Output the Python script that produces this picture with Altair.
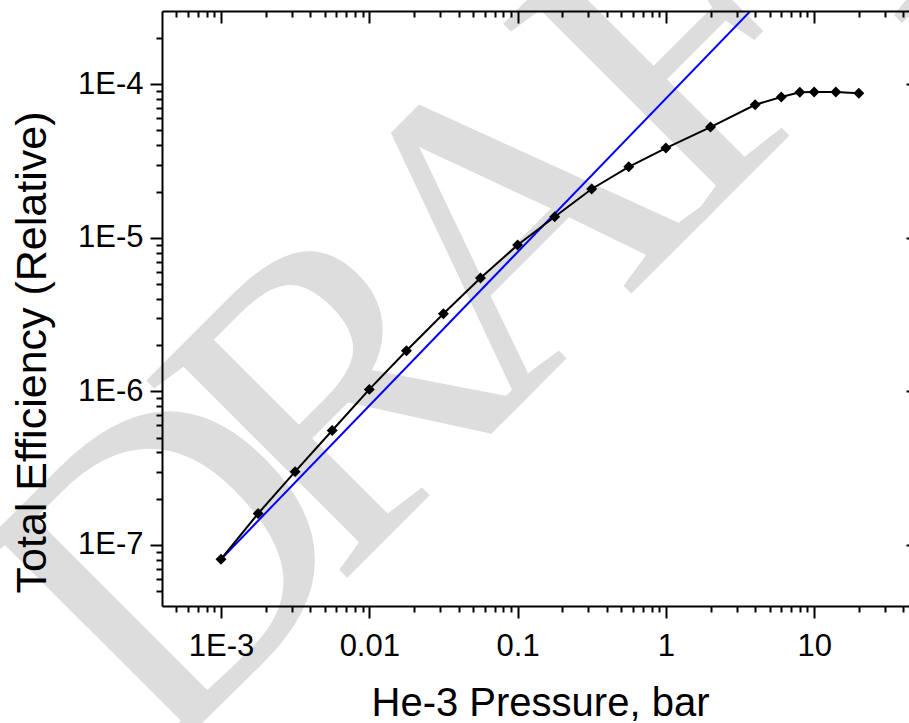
import altair as alt
import pandas as pd

# ---- data ----
pressure = [0.001, 0.00178, 0.00316, 0.00562, 0.01, 0.0178, 0.0316, 0.0562, 0.1,
            0.178, 0.316, 0.562, 1, 2, 4, 6, 8, 10, 14, 20]
efficiency = [8.07e-8, 1.6e-7, 3.0e-7, 5.56e-7, 1.03e-6, 1.84e-6, 3.2e-6, 5.47e-6, 8.97e-6,
              1.37e-5, 2.08e-5, 2.9e-5, 3.84e-5, 5.26e-5, 7.35e-5, 8.26e-5, 8.87e-5, 8.9e-5,
              8.9e-5, 8.75e-5]
fit_pressure = [0.001, 10]
fit_efficiency = [8.07e-8, 8.07e-4]

x_major = [0.001, 0.01, 0.1, 1, 10]
x_major_labels = ["1E-3", "0.01", "0.1", "1", "10"]
x_minor = [5e-4, 6e-4, 7e-4, 8e-4, 9e-4,
           2e-3, 3e-3, 4e-3, 5e-3, 6e-3, 7e-3, 8e-3, 9e-3,
           0.02, 0.03, 0.04, 0.05, 0.06, 0.07, 0.08, 0.09,
           0.2, 0.3, 0.4, 0.5, 0.6, 0.7, 0.8, 0.9,
           2, 3, 4, 5, 6, 7, 8, 9,
           20, 30, 40]
y_major = [1e-7, 1e-6, 1e-5, 1e-4]
y_major_labels = ["1E-7", "1E-6", "1E-5", "1E-4"]
y_minor = [5e-8, 6e-8, 7e-8, 8e-8, 9e-8,
           2e-7, 3e-7, 4e-7, 5e-7, 6e-7, 7e-7, 8e-7, 9e-7,
           2e-6, 3e-6, 4e-6, 5e-6, 6e-6, 7e-6, 8e-6, 9e-6,
           2e-5, 3e-5, 4e-5, 5e-5, 6e-5, 7e-5, 8e-5, 9e-5,
           2e-4]
watermark_letters = ["D", "R", "A", "F", "T"]

x_title = "He-3 Pressure, bar"
y_title = "Total Efficiency (Relative)"

FONT = "Liberation Sans"


def label_expr(values, labels):
    parts = [f"abs(log(datum.value) - log({v!r})) < 0.01 ? '{l}' : " for v, l in zip(values, labels)]
    return "".join(parts) + "''"


data = pd.DataFrame({"p": pressure, "e": efficiency})
fit = pd.DataFrame({"p": fit_pressure, "e": fit_efficiency})
wm = pd.DataFrame({"t": watermark_letters})

xs = alt.Scale(type="log", domain=[4e-4, 43.6], nice=False)
ys = alt.Scale(type="log", domain=[4e-8, 3e-4], nice=False)

common = dict(grid=False, zindex=1, tickColor="black", tickWidth=2, domainColor="black",
              domainWidth=2)

ax_bottom_major = alt.Axis(orient="bottom", values=x_major, labelExpr=label_expr(x_major, x_major_labels),
                           tickSize=12, labelFont=FONT, labelFontSize=31, labelColor="black",
                           labelPadding=13, labelFlush=False, labelOverlap=False,
                           titleFont=FONT, titleFontSize=40, titleFontWeight="normal", titleColor="black",
                           titleX=378, titleY=109, titleBaseline="alphabetic", titleAlign="center",
                           **common)
ax_bottom_minor = alt.Axis(orient="bottom", values=x_minor, labels=False, tickSize=6, domain=False,
                           **common)
ax_top_major = alt.Axis(orient="top", values=x_major, labels=False, tickSize={"expr": "-12"},
                        **common)
ax_top_minor = alt.Axis(orient="top", values=x_minor, labels=False, tickSize={"expr": "-6"},
                        domain=False, **common)

ax_left_major = alt.Axis(orient="left", values=y_major, labelExpr=label_expr(y_major, y_major_labels),
                         tickSize=12, labelFont=FONT, labelFontSize=31, labelColor="black",
                         labelPadding=7, labelFlush=False, labelOverlap=False,
                         titleFont=FONT, titleFontSize=43, titleFontWeight="normal", titleColor="black",
                         titleX=-117, titleY=341, titleBaseline="alphabetic", titleAlign="center",
                         titleAngle=270, **common)
ax_left_minor = alt.Axis(orient="left", values=y_minor, labels=False, tickSize=6, domain=False,
                         **common)
ax_right_major = alt.Axis(orient="right", values=y_major, labels=False, tickSize=12, domain=False,
                          offset=-3, **common)

# watermark: letters laid out along a 45-degree rising baseline
mark_wm = alt.Chart(wm).transform_window(
    i="row_number()"
).transform_calculate(
    px="446 + (datum.i - 3) * 170",
    py="306 - (datum.i - 3) * 170",
).mark_text(
    font="Liberation Serif", fontSize=430, angle=315, color="#dddddd",
    align="center", baseline="alphabetic"
).encode(
    text="t:N",
    x=alt.X("px:Q", scale=None, axis=None),
    y=alt.Y("py:Q", scale=None, axis=None),
)

blue = alt.Chart(fit).mark_line(color="#0000ff", strokeWidth=2, clip=True).encode(
    x=alt.X("p:Q", scale=xs, axis=ax_bottom_major, title=x_title),
    y=alt.Y("e:Q", scale=ys, axis=ax_left_major, title=y_title),
)
black_line = alt.Chart(data).mark_line(color="black", strokeWidth=2).encode(
    x=alt.X("p:Q", scale=xs, axis=ax_bottom_minor, title=None),
    y=alt.Y("e:Q", scale=ys, axis=ax_left_minor, title=None),
)
black_pts = alt.Chart(data).mark_point(shape="diamond", filled=True, size=120, color="black",
                                       opacity=1).encode(
    x=alt.X("p:Q", scale=xs, axis=ax_top_major, title=None),
    y=alt.Y("e:Q", scale=ys, axis=ax_right_major, title=None),
)
top_minor = alt.Chart(data).mark_point(opacity=0).encode(
    x=alt.X("p:Q", scale=xs, axis=ax_top_minor, title=None),
    y=alt.Y("e:Q", scale=ys, axis=None),
)

chart = alt.layer(mark_wm, blue, black_line, black_pts, top_minor).resolve_axis(
    x="independent", y="independent"
).properties(
    width=747, height=595,
    autosize=alt.AutoSizeParams(type="none"),
    padding={"left": 162, "top": 11, "right": 0, "bottom": 117},
    background="white",
).configure_view(strokeWidth=0)

chart.save("out.html", embed_options={"renderer": "svg", "actions": False})
